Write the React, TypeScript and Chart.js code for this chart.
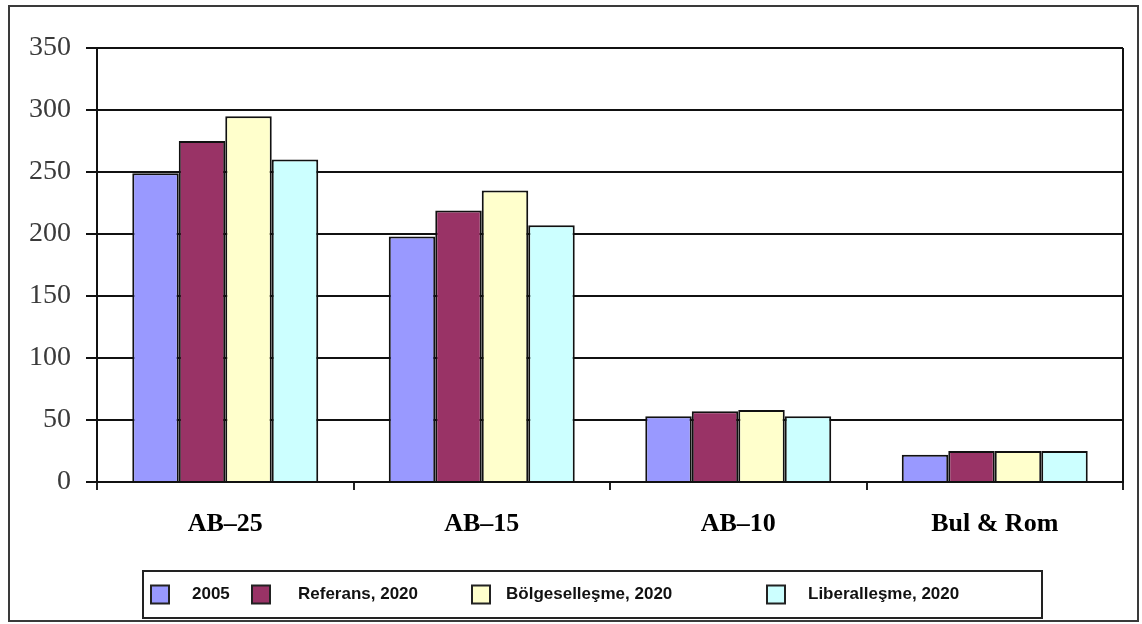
import React, { useEffect, useRef } from "react";
import { Chart, registerables } from "chart.js";

Chart.register(...registerables);

const categories = ["AB–25", "AB–15", "AB–10", "Bul & Rom"];
const seriesNames = ["2005", "Referans, 2020", "Bölgeselleşme, 2020", "Liberalleşme, 2020"];
const values2005 = [249, 198, 53, 22];
const valuesReferans = [275, 219, 57, 25];
const valuesBolgesel = [295, 235, 58, 25];
const valuesLiberal = [260, 207, 53, 25];
const seriesColors = ["#9999FF", "#993366", "#FFFFCC", "#CCFFFF"];
const yTicks = [0, 50, 100, 150, 200, 250, 300, 350];

const legendBox = { left: 143, top: 571, right: 1042, bottom: 618 };
const legendSwatchX = [151, 252, 472, 767];
const legendTextX = [192, 298, 506, 808];

const framePlugin = {
  id: "frame",
  beforeDraw(chart: any) {
    const ctx = chart.ctx;
    ctx.save();
    ctx.fillStyle = "#ffffff";
    ctx.fillRect(0, 0, chart.width, chart.height);
    ctx.restore();
  },
  afterDraw(chart: any) {
    const ctx = chart.ctx;
    const ca = chart.chartArea;
    ctx.save();
    // outer border
    ctx.strokeStyle = "#3a3a3a";
    ctx.lineWidth = 2;
    ctx.strokeRect(9, 6, 1129, 615);
    // plot area right border
    ctx.strokeStyle = "#111";
    ctx.lineWidth = 2;
    ctx.beginPath();
    ctx.moveTo(ca.right, ca.top);
    ctx.lineTo(ca.right, ca.bottom);
    ctx.stroke();
    // legend
    ctx.strokeStyle = "#222";
    ctx.lineWidth = 2;
    ctx.strokeRect(legendBox.left, legendBox.top, legendBox.right - legendBox.left, legendBox.bottom - legendBox.top);
    const cy = (legendBox.top + legendBox.bottom) / 2;
    chart.data.datasets.forEach((ds: any, i: number) => {
      const sx = legendSwatchX[i];
      ctx.fillStyle = ds.backgroundColor;
      ctx.fillRect(sx, cy - 9, 18, 18);
      ctx.strokeStyle = "#222";
      ctx.lineWidth = 2;
      ctx.strokeRect(sx, cy - 9, 18, 18);
      ctx.fillStyle = "#111";
      ctx.font = "bold 17px 'Liberation Sans', Arial, sans-serif";
      ctx.textBaseline = "middle";
      ctx.textAlign = "left";
      ctx.fillText(ds.label, legendTextX[i], cy);
    });
    ctx.restore();
  },
};

export default function App() {
  const ref = useRef<HTMLCanvasElement | null>(null);
  useEffect(() => {
    if (!ref.current) return;
    const allValues = [values2005, valuesReferans, valuesBolgesel, valuesLiberal];
    const chart = new Chart(ref.current, {
      type: "bar",
      data: {
        labels: categories,
        datasets: allValues.map((vals, i) => ({
          label: seriesNames[i],
          data: vals,
          backgroundColor: seriesColors[i],
          borderColor: "#111",
          borderWidth: 2,
          categoryPercentage: 0.725,
          barPercentage: 1,
        })),
      },
      options: {
        responsive: false,
        animation: false,
        layout: { padding: { left: 0, top: 48, right: 19, bottom: 82 } },
        plugins: { legend: { display: false }, tooltip: { enabled: false } },
        scales: {
          x: {
            offset: true,
            afterFit(scale: any) {
              scale.height = 60;
            },
            grid: {
              display: true,
              drawOnChartArea: false,
              drawTicks: true,
              tickLength: 8,
              offset: true,
              color: "#222",
              lineWidth: 2,
            },
            border: { display: true, color: "#111", width: 2 },
            ticks: {
              color: "#000",
              padding: 19,
              font: { family: "'Liberation Serif', 'Times New Roman', serif", size: 26, weight: "bold" },
            },
          },
          y: {
            min: 0,
            max: 350,
            afterFit(scale: any) {
              scale.width = 97;
            },
            afterBuildTicks(scale: any) {
              scale.ticks = yTicks.map((v) => ({ value: v }));
            },
            grid: { color: "#111", lineWidth: 2, drawTicks: true, tickLength: 11 },
            border: { display: true, color: "#111", width: 2 },
            ticks: {
              color: "#3a3a3a",
              padding: 15,
              font: { family: "'Liberation Serif', 'Times New Roman', serif", size: 28 },
            },
          },
        },
      },
      plugins: [framePlugin],
    } as any);
    return () => chart.destroy();
  }, []);
  return (
    <div style={{ position: "absolute", left: 0, top: 0, width: 1142, height: 624 }}>
      <canvas ref={ref} width={1142} height={624} style={{ display: "block", width: 1142, height: 624 }} />
    </div>
  );
}
